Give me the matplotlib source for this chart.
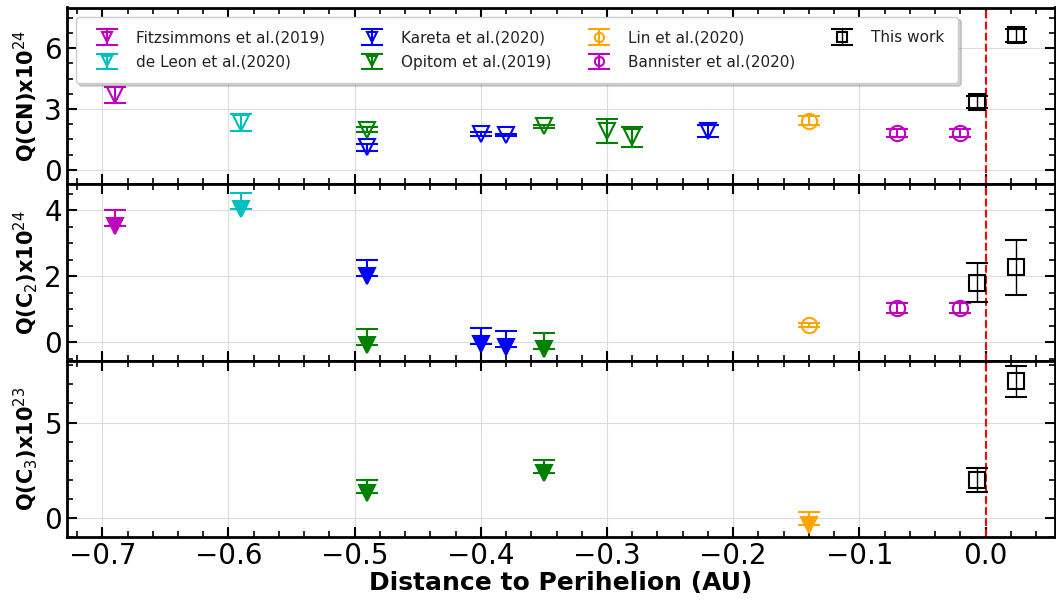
import numpy as np
import matplotlib.pyplot as plt
from matplotlib.ticker import MultipleLocator, AutoMinorLocator

# distance to perihelion (AU) for each reference
fitz_x = [-0.69]
leon_x = [-0.59]
kareta_x = [-0.49, -0.40, -0.38, -0.22]
opitom_x = [-0.49, -0.35, -0.30, -0.28]
lin_x = [-0.14]
bann_x = [-0.07, -0.02]
this_x = [-0.007, 0.024]

# Q(CN) x1e24
fitz_cn, fitz_cn_err = [3.70], [0.40]
leon_cn, leon_cn_err = [2.33], [0.40]
kareta_cn, kareta_cn_err = [1.10, 1.77, 1.72, 1.92], [0.18, 0.09, 0.05, 0.30]
opitom_cn, opitom_cn_err = [1.98, 2.15, 1.90, 1.60], [0.12, 0.08, 0.60, 0.50]
lin_cn, lin_cn_err = [2.42], [0.22]
bann_cn, bann_cn_err = [1.80, 1.80], [0.20, 0.20]
this_cn, this_cn_err = [3.33, 6.62], [0.30, 0.30]

# Q(C2) x1e24 (triangles = upper limits)
fitz_c2, fitz_c2_up = [3.54], [0.47]
leon_c2, leon_c2_up = [4.03], [0.49]
kareta_c2_x = [-0.49, -0.40, -0.38]
kareta_c2, kareta_c2_up = [2.00, -0.05, -0.14], [0.51, 0.49, 0.49]
opitom_c2_x = [-0.49, -0.35]
opitom_c2, opitom_c2_up = [-0.08, -0.20], [0.49, 0.49]
lin_c2, lin_c2_err = [0.53], [0.05]
bann_c2, bann_c2_err = [1.05, 1.05], [0.15, 0.15]
this_c2, this_c2_err = [1.81, 2.28], [0.60, 0.83]

# Q(C3) x1e23
opitom_c3_x = [-0.49, -0.35]
opitom_c3, opitom_c3_up = [1.33, 2.33], [0.67, 0.69]
lin_c3, lin_c3_up = [-0.38], [0.67]
this_c3, this_c3_err = [2.00, 7.15], [0.62, 0.83]


def pts(ax, x, y, err, color, marker, filled=False, upper=False, label=None, ms=11, elw=1.5):
    if upper:
        yerr = [np.zeros(len(err)), err]
    else:
        yerr = err
    ax.errorbar(x, y, yerr=yerr, fmt=marker, color=color, ms=ms,
                mfc=color if filled else 'none', mec=color, mew=1.5,
                elinewidth=elw, capsize=8, capthick=2, label=label, zorder=3)


fig, (ax1, ax2, ax3) = plt.subplots(3, 1, sharex=True, figsize=(10.56, 6), dpi=100)
fig.subplots_adjust(left=0.0634, right=0.999, top=0.9875, bottom=0.105, hspace=0)

# CN
pts(ax1, fitz_x, fitz_cn, fitz_cn_err, 'm', 'v', label='Fitzsimmons et al.(2019)', ms=12)
pts(ax1, leon_x, leon_cn, leon_cn_err, 'c', 'v', label='de Leon et al.(2020)', ms=12)
pts(ax1, kareta_x, kareta_cn, kareta_cn_err, 'b', 'v', label='Kareta et al.(2020)', ms=12)
pts(ax1, opitom_x, opitom_cn, opitom_cn_err, 'g', 'v', label='Opitom et al.(2019)', ms=12)
pts(ax1, lin_x, lin_cn, lin_cn_err, 'orange', 'o', label='Lin et al.(2020)')
pts(ax1, bann_x, bann_cn, bann_cn_err, 'm', 'o', label='Bannister et al.(2020)')
pts(ax1, this_x, this_cn, this_cn_err, 'k', 's', label='This work', elw=1)

# C2
pts(ax2, fitz_x, fitz_c2, fitz_c2_up, 'm', 'v', filled=True, upper=True)
pts(ax2, leon_x, leon_c2, leon_c2_up, 'c', 'v', filled=True, upper=True)
pts(ax2, kareta_c2_x, kareta_c2, kareta_c2_up, 'b', 'v', filled=True, upper=True)
pts(ax2, opitom_c2_x, opitom_c2, opitom_c2_up, 'g', 'v', filled=True, upper=True)
pts(ax2, lin_x, lin_c2, lin_c2_err, 'orange', 'o')
pts(ax2, bann_x, bann_c2, bann_c2_err, 'm', 'o')
pts(ax2, this_x, this_c2, this_c2_err, 'k', 's', elw=1)

# C3
pts(ax3, opitom_c3_x, opitom_c3, opitom_c3_up, 'g', 'v', filled=True, upper=True)
pts(ax3, lin_x, lin_c3, lin_c3_up, 'orange', 'v', filled=True, upper=True)
pts(ax3, this_x, this_c3, this_c3_err, 'k', 's', elw=1)

ax1.set_ylim(-0.7, 8)
ax2.set_ylim(-0.55, 4.8)
ax3.set_ylim(-1.0, 8.25)
ax1.yaxis.set_major_locator(MultipleLocator(3))
ax2.yaxis.set_major_locator(MultipleLocator(2))
ax3.yaxis.set_major_locator(MultipleLocator(5))
ax3.set_xlim(-0.728, 0.055)
ax3.xaxis.set_major_locator(MultipleLocator(0.1))

ax1.set_ylabel(r'Q(CN)x10$^{24}$', fontsize=15, fontweight='bold')
ax2.set_ylabel(r'Q(C$_2$)x10$^{24}$', fontsize=15, fontweight='bold')
ax3.set_ylabel(r'Q(C$_3$)x10$^{23}$', fontsize=15, fontweight='bold')
ax3.set_xlabel('Distance to Perihelion (AU)', fontsize=18, fontweight='bold', labelpad=1)

for ax in (ax1, ax2, ax3):
    ax.axvline(0, color='r', ls='--', lw=1.5, zorder=2)
    ax.grid(True, color='#dcdcdc', lw=0.8, zorder=0)
    ax.set_axisbelow(True)
    ax.xaxis.set_minor_locator(AutoMinorLocator())
    ax.yaxis.set_minor_locator(AutoMinorLocator())
    ax.tick_params(which='both', direction='in', top=True, right=True, labelsize=20)
    ax.tick_params(which='major', length=7, width=1.5)
    ax.tick_params(which='minor', length=4, width=1.2)
    for s in ax.spines.values():
        s.set_linewidth(2)
    ax.yaxis.set_label_coords(-0.027, 0.5)

ax1.legend(loc='upper left', ncol=4, fontsize=11, shadow={'alpha': 0.25}, labelspacing=0.6,
           borderpad=0.9, handlelength=2.2, markerscale=0.6, labelcolor='#222222',
           framealpha=1, borderaxespad=0.6)

plt.savefig('out.png', dpi=100)
